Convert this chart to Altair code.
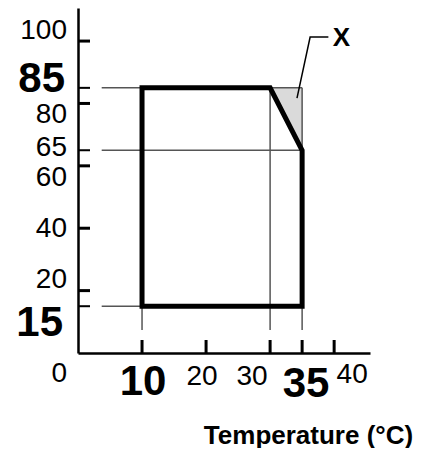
import altair as alt
import pandas as pd

# ---------------- data ----------------
region_x = [10, 10, 30, 35, 35, 10]
region_y = [15, 85, 85, 65, 15, 15]

shade_x = [30, 35]
shade_top = [85, 85]
shade_bottom = [85, 65]

h_guide_y = [85, 65, 15]
h_guide_x1 = [3.7, 3.7, 3.7]
h_guide_x2 = [35, 35, 35]

v_guide_x = [10, 30, 35]
v_guide_y1 = [15, 85, 85]
v_guide_y2 = [7.4, 7.4, 7.4]

y_major_ticks = [100, 80, 60, 40, 20]
y_minor_ticks = [85, 65, 15]
x_ticks = [10, 20, 30, 35, 40]

y_label_vals = [100, 85, 80, 65, 60, 40, 20, 15, 0]
y_label_text = ["100", "85", "80", "65", "60", "40", "20", "15", "0"]
x_label_vals = [10, 20, 30, 35, 40]
x_label_text = ["10", "20", "30", "35", "40"]

leader_x = [39.1, 36.25, 34.2]
leader_y = [101.3, 101.3, 81.7]
callout_x = [39.8]
callout_y = [101.1]
callout_text = ["X"]

x_title = "Temperature (°C)"

# ---------------- styles ----------------
FONT = "Liberation Sans"
SMALL, BIG = 28, 42
y_label_size = [SMALL, BIG, SMALL, SMALL, SMALL, SMALL, SMALL, BIG, SMALL]
y_label_dx = [-11, -13, -11, -11, -11, -11, -11, -15, -11]
y_label_dy = [-10, -9, 12, -2, 12, 1, -11, 17, 21]
x_label_size = [BIG, SMALL, SMALL, BIG, SMALL]
x_label_dx = [1, -4, -18, 4, 18]
x_label_dy = [29, 24, 24, 31, 22]

W, H = 292, 345
xs = alt.Scale(domain=[0, 45.6], nice=False, zero=False)
ys = alt.Scale(domain=[0, 110.6], nice=False, zero=False)
xax = alt.Axis(domain=True, domainColor="black", domainWidth=2.5, ticks=False,
               labels=False, grid=False, title=x_title, titleFont=FONT,
               titleFontSize=26, titleFontWeight="bold", titleColor="black",
               titleX=230, titleY=82, titleAlign="center", titleBaseline="middle",
               titleAngle=0)
yax = alt.Axis(domain=True, domainColor="black", domainWidth=2.5, ticks=False,
               labels=False, grid=False, title=None)


def X(f):
    return alt.X(f, type="quantitative", scale=xs, axis=xax)


def Y(f):
    return alt.Y(f, type="quantitative", scale=ys, axis=yax)


layers = []

shade_df = pd.DataFrame({"x": shade_x, "top": shade_top, "bottom": shade_bottom})
layers.append(
    alt.Chart(shade_df).mark_area(fill="#dadada", orient="vertical")
    .encode(x=X("x"), y=Y("top"), y2="bottom")
)

h_df = pd.DataFrame({"y": h_guide_y, "x1": h_guide_x1, "x2": h_guide_x2})
layers.append(
    alt.Chart(h_df).mark_rule(color="#555555", strokeWidth=1.5)
    .encode(x=X("x1"), x2="x2", y=Y("y"))
)
v_df = pd.DataFrame({"x": v_guide_x, "y1": v_guide_y1, "y2": v_guide_y2})
layers.append(
    alt.Chart(v_df).mark_rule(color="#555555", strokeWidth=1.5)
    .encode(x=X("x"), y=Y("y1"), y2="y2")
)

poly_df = pd.DataFrame({"x": region_x, "y": region_y, "o": list(range(len(region_x)))})
layers.append(
    alt.Chart(poly_df).mark_line(color="black", strokeWidth=5, strokeJoin="miter",
                                 strokeCap="square")
    .encode(x=X("x"), y=Y("y"), order="o:Q")
)

layers.append(
    alt.Chart(pd.DataFrame({"v": y_major_ticks})).mark_rule(color="black", strokeWidth=3)
    .encode(y=Y("v"), x=alt.value(0), x2=alt.value(12))
)
layers.append(
    alt.Chart(pd.DataFrame({"v": y_minor_ticks})).mark_rule(color="black", strokeWidth=2)
    .encode(y=Y("v"), x=alt.value(0), x2=alt.value(12))
)
layers.append(
    alt.Chart(pd.DataFrame({"v": x_ticks})).mark_rule(color="black", strokeWidth=3)
    .encode(x=X("v"), y=alt.value(H), y2=alt.value(H - 13))
)

lead_df = pd.DataFrame({"x": leader_x, "y": leader_y, "o": [0, 1, 2]})
layers.append(
    alt.Chart(lead_df).mark_line(color="black", strokeWidth=1.5)
    .encode(x=X("x"), y=Y("y"), order="o:Q")
)
layers.append(
    alt.Chart(pd.DataFrame({"x": callout_x, "y": callout_y, "t": callout_text}))
    .mark_text(font=FONT, fontSize=26, fontWeight="bold", align="left",
               baseline="middle", color="black")
    .encode(x=X("x"), y=Y("y"), text="t:N")
)

for v, t, s, dx, dy in zip(y_label_vals, y_label_text, y_label_size, y_label_dx, y_label_dy):
    layers.append(
        alt.Chart(pd.DataFrame({"v": [v], "t": [t]}))
        .mark_text(font=FONT, fontSize=s, fontWeight="bold" if s == BIG else "normal",
                   align="right", baseline="middle", dy=dy, color="black")
        .encode(y=Y("v"), x=alt.value(dx), text="t:N")
    )

for v, t, s, dx, dy in zip(x_label_vals, x_label_text, x_label_size, x_label_dx, x_label_dy):
    layers.append(
        alt.Chart(pd.DataFrame({"v": [v], "t": [t]}))
        .mark_text(font=FONT, fontSize=s, fontWeight="bold" if s == BIG else "normal",
                   align="center", baseline="middle", dx=dx, dy=dy, color="black")
        .encode(x=X("v"), y=alt.value(H), text="t:N")
    )

chart = (
    alt.layer(*layers)
    .properties(width=W, height=H, autosize="none",
                padding={"left": 70, "top": 0, "right": 45, "bottom": 95})
    .configure_view(stroke=None)
)

chart.save("out.html", embed_options={"renderer": "svg", "actions": False})
